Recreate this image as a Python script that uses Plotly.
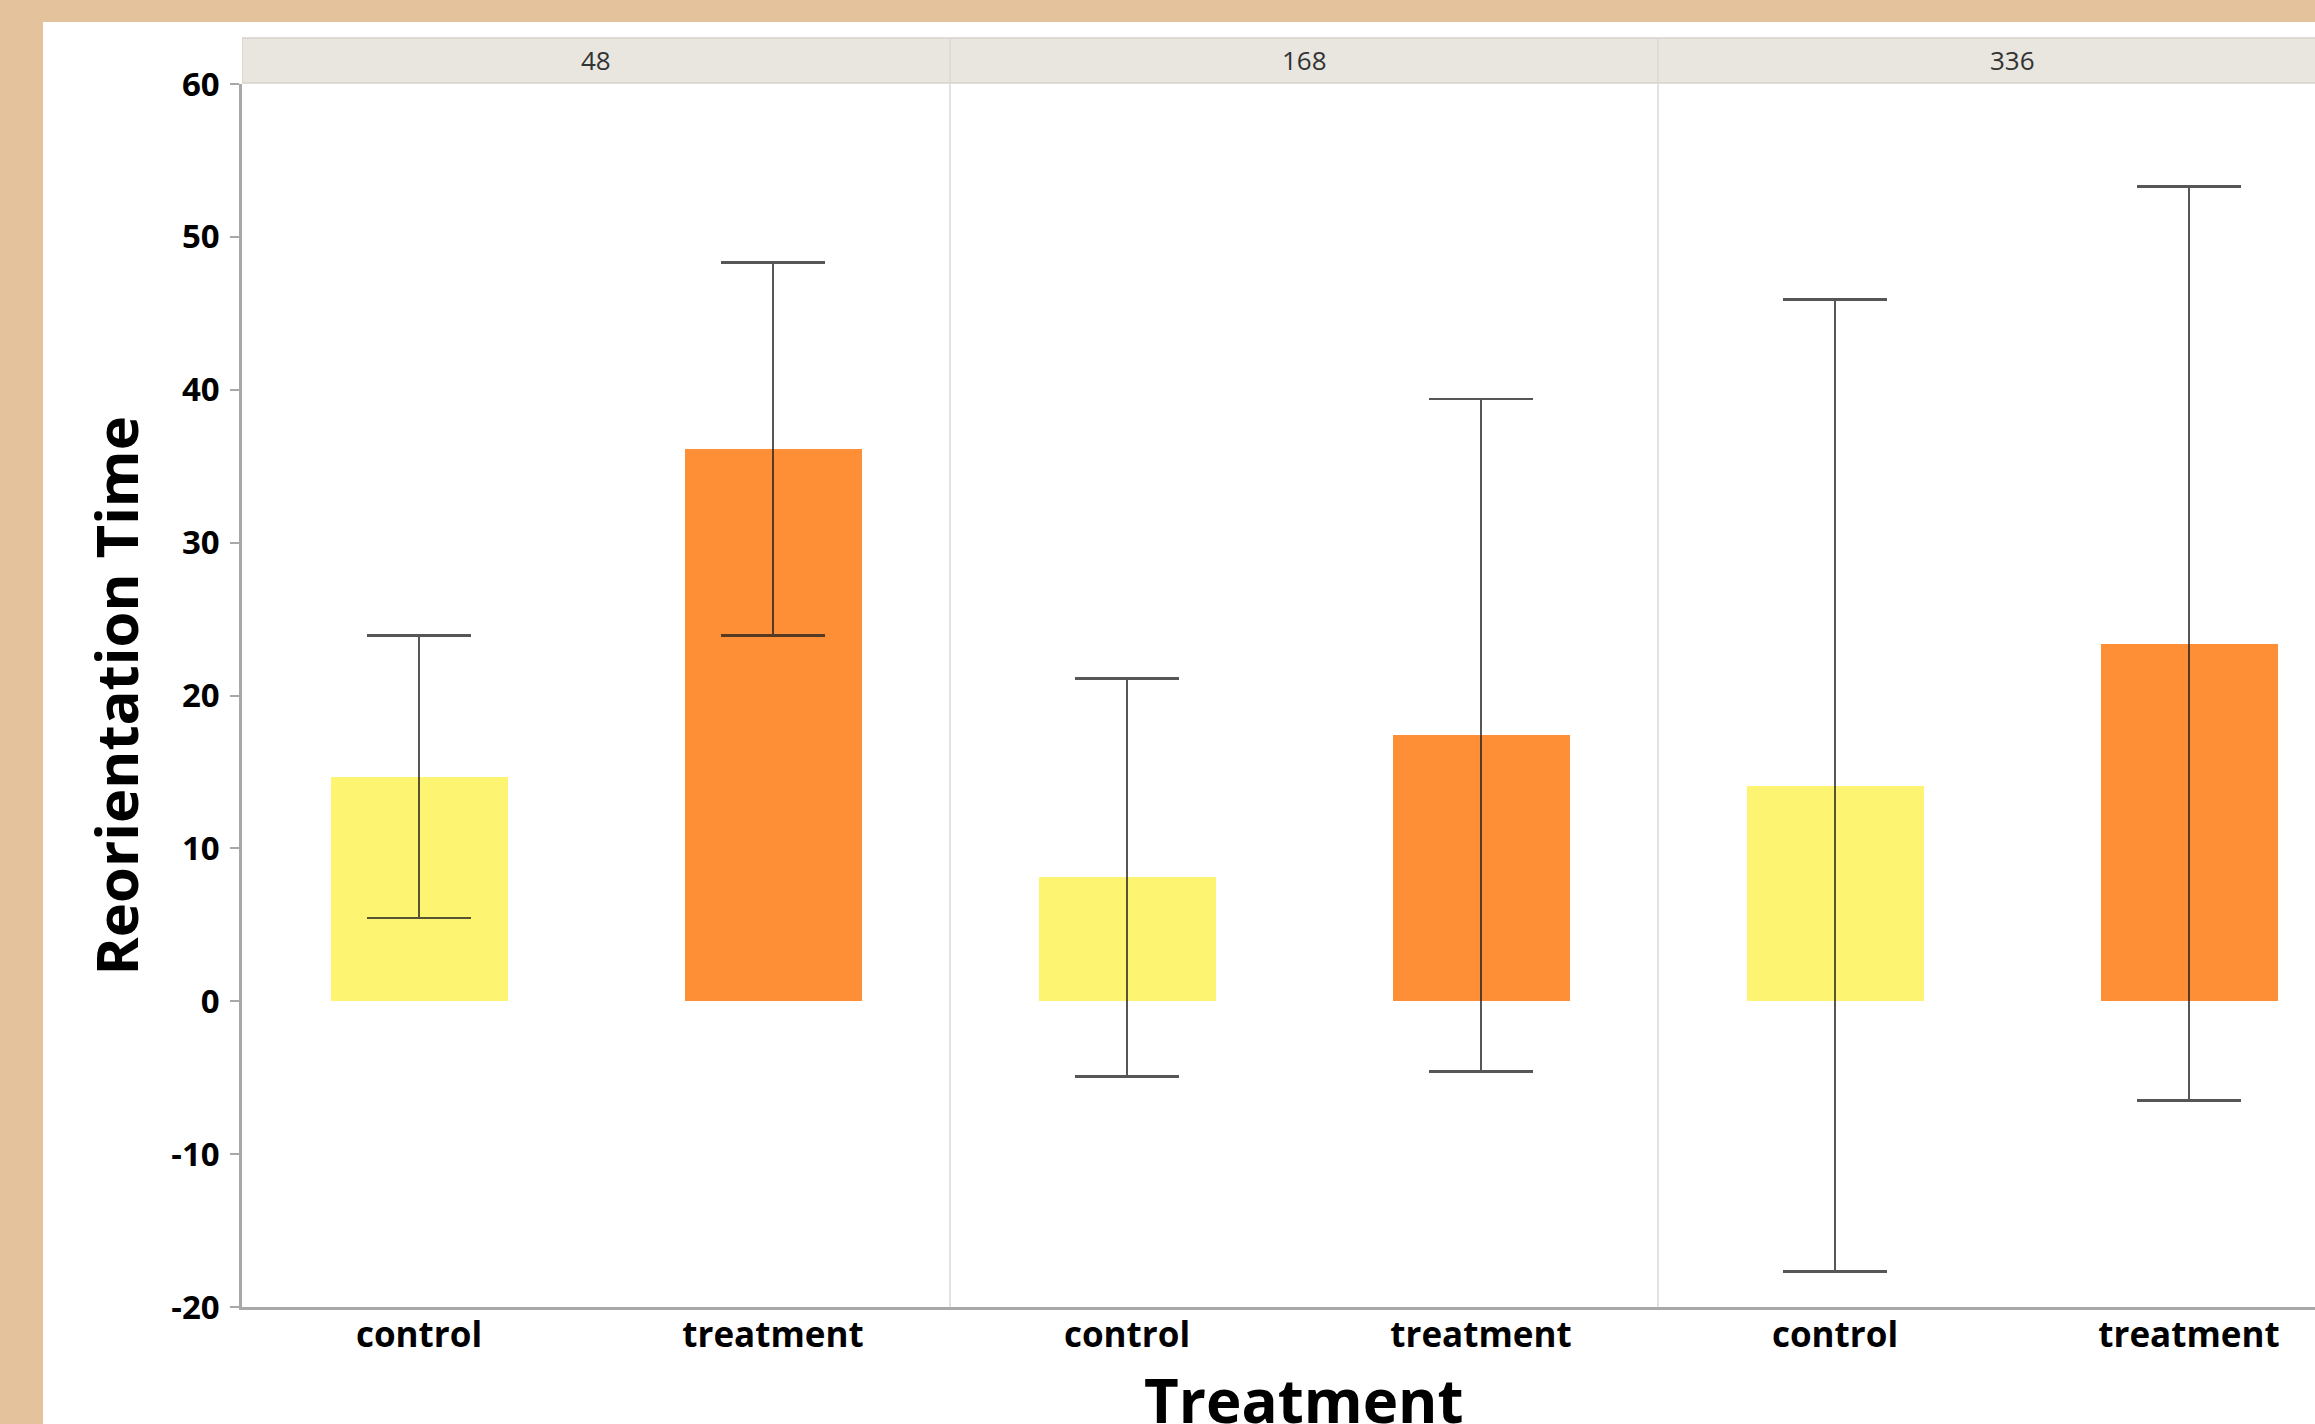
import plotly.graph_objects as go

# ---- data ----
time_points = ["48", "168", "336"]
groups = ["control", "treatment"]
control_means = [14.7, 8.1, 14.1]
control_errors = [9.25, 13.0, 31.8]
treatment_means = [36.1, 17.4, 23.4]
treatment_errors = [12.2, 22.0, 29.9]
y_ticks = [-20, -10, 0, 10, 20, 30, 40, 50, 60]

colors = {"control": "#FDF571", "treatment": "#FE8F37"}
means = {"control": control_means, "treatment": treatment_means}
errors = {"control": control_errors, "treatment": treatment_errors}

# ---- geometry (pixels of the target canvas) ----
W, H = 2315, 1424
L, R, T, B = 242, 0, 84, 117
plot_w = W - L - R
plot_h = H - T - B
panel_units = len(groups)
px_per_unit = 354.0
x_max = plot_w / px_per_unit


def px_x(p):
    return (p - L) / plot_w


def px_y(p):
    return 1 - (p - T) / plot_h


fig = go.Figure()

tickvals, ticktext = [], []
for gi, g in enumerate(groups):
    xs = [ti * panel_units + gi + 0.5 for ti in range(len(time_points))]
    tickvals += xs
    ticktext += [g] * len(xs)
    fig.add_trace(go.Bar(
        x=xs, y=means[g], width=0.5, name=g,
        marker=dict(color=colors[g], line=dict(width=0)),
        error_y=dict(type="data", array=errors[g], visible=True,
                     color="rgba(30,30,30,0.75)", thickness=2.8, width=52),
        showlegend=False,
    ))

shapes = []
# white card over the parchment background
shapes.append(dict(type="rect", xref="paper", yref="paper", layer="below",
                   x0=px_x(43), x1=px_x(W + 20), y0=px_y(H + 20), y1=px_y(22),
                   fillcolor="white", line=dict(width=0)))
# strip header
strip_top, strip_bot = 38, 83
shapes.append(dict(type="rect", xref="x", yref="paper", layer="below",
                   x0=0, x1=len(time_points) * panel_units,
                   y0=px_y(strip_bot), y1=px_y(strip_top),
                   fillcolor="#E8E6DF", line=dict(color="#D6D4CD", width=1.5)))
# panel dividers
for ti in range(1, len(time_points)):
    shapes.append(dict(type="line", xref="x", yref="paper", layer="above",
                       x0=ti * panel_units, x1=ti * panel_units,
                       y0=0, y1=px_y(strip_top),
                       line=dict(color="#D8D8D8", width=1.5)))

annotations = []
for ti, tp in enumerate(time_points):
    annotations.append(dict(text=tp, xref="x", yref="paper",
                            x=ti * panel_units + panel_units / 2,
                            y=px_y((strip_top + strip_bot) / 2),
                            showarrow=False, xanchor="center", yanchor="middle",
                            font=dict(family="Open Sans", size=26, color="#333333")))
annotations.append(dict(text="Reorientation Time", xref="paper", yref="paper",
                        x=px_x(115), y=px_y(T + plot_h / 2), textangle=-90,
                        showarrow=False, xanchor="center", yanchor="middle",
                        font=dict(family="Open Sans", size=58, color="black", weight="bold")))
annotations.append(dict(text="Treatment", xref="x", yref="paper",
                        x=len(time_points) * panel_units / 2, y=px_y(1400),
                        showarrow=False, xanchor="center", yanchor="middle",
                        font=dict(family="Open Sans", size=60, color="black", weight="bold")))

fig.update_layout(
    width=W, height=H,
    margin=dict(l=L, r=R, t=T, b=B, pad=0),
    paper_bgcolor="#E3C29C",
    plot_bgcolor="white",
    bargap=0,
    shapes=shapes,
    annotations=annotations,
    xaxis=dict(range=[0, x_max], tickvals=tickvals, ticktext=ticktext,
               showgrid=False, zeroline=False, showline=True,
               linecolor="#A8A8A8", linewidth=3, ticks="",
               tickfont=dict(family="Open Sans", size=35, color="black", weight="bold"),
               ticklabelstandoff=-5),
    yaxis=dict(range=[-20, 60], tickvals=y_ticks, ticktext=[str(v) for v in y_ticks],
               showgrid=False, zeroline=False, showline=True,
               linecolor="#A8A8A8", linewidth=2.5, ticks="outside",
               ticklen=9, tickwidth=1.5, tickcolor="#A8A8A8",
               tickfont=dict(family="Open Sans", size=33, color="black", weight="bold"),
               ticklabelstandoff=4),
)

fig.write_html(
    "out.html",
    config={"displayModeBar": False},
    post_script="document.body.style.margin='0px';"
                "document.body.style.overflow='hidden';"
                "document.body.style.background='#E3C29C';",
)
